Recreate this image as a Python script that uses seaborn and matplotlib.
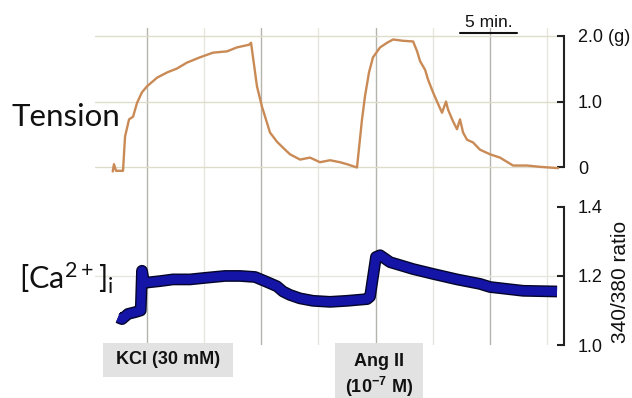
import matplotlib
matplotlib.use("Agg")
import matplotlib.pyplot as plt
import matplotlib.patheffects as pe
from matplotlib.patches import Rectangle
import pandas as pd
import seaborn as sns

# time in minutes, tension in g
tension_t = [2.00, 2.11, 2.29, 2.90, 3.08, 3.43, 3.78, 4.13, 4.56, 5.00, 5.87, 6.75,
             7.62, 8.50, 9.64, 10.77, 12.00, 12.87, 13.92, 14.10, 14.62, 15.06, 15.76,
             16.37, 16.90, 17.51, 18.39, 19.26, 20.13, 21.01, 21.88, 22.50, 23.37,
             23.81, 24.07, 24.42, 24.77, 25.39, 26.00, 26.53, 27.40, 28.28, 28.63,
             28.89, 29.33, 29.59, 30.02, 30.37, 30.81, 31.16, 31.33, 31.77, 32.12,
             32.38, 32.65, 33.00, 33.52, 34.13, 35.01, 35.88, 37.02, 38.24, 39.38, 40.96]
tension_g = [-0.06, 0.05, -0.05, -0.05, 0.47, 0.73, 0.77, 0.98, 1.14, 1.23, 1.36, 1.44,
             1.50, 1.59, 1.67, 1.74, 1.76, 1.82, 1.86, 1.89, 1.23, 0.92, 0.53,
             0.39, 0.30, 0.20, 0.12, 0.15, 0.08, 0.11, 0.08, 0.05, 0.00,
             0.73, 1.08, 1.44, 1.67, 1.82, 1.89, 1.94, 1.92, 1.91, 1.76,
             1.61, 1.48, 1.33, 1.14, 1.00, 0.83, 1.00, 0.88, 0.70, 0.58,
             0.73, 0.53, 0.42, 0.38, 0.27, 0.20, 0.15, 0.03, 0.03, 0.01, -0.01]

# 340/380 fura-2 ratio
ca_t = [2.46, 2.81, 3.34, 3.95, 4.45, 4.56, 4.75, 6.13, 7.27, 8.76, 10.25, 11.82,
        13.14, 14.45, 15.32, 16.37, 16.90, 17.51, 18.39, 19.52, 21.01, 22.50,
        24.25, 24.51, 25.03, 25.39, 26.26, 28.28, 30.02, 32.12, 34.13, 35.01,
        37.90, 40.87]
ca_ratio = [1.08, 1.075, 1.09, 1.095, 1.10, 1.215, 1.18, 1.185, 1.19, 1.19, 1.195, 1.20,
            1.20, 1.197, 1.185, 1.17, 1.155, 1.145, 1.135, 1.128, 1.125, 1.128,
            1.133, 1.14, 1.255, 1.26, 1.24, 1.22, 1.206, 1.19, 1.177, 1.168,
            1.157, 1.155]

tension_ticks = [0, 1.0, 2.0]
tension_labels = ["0", "1.0", "2.0 (g)"]
ca_ticks = [1.0, 1.2, 1.4]
ca_labels = ["1.0", "1.2", "1.4"]
grid_major = [5, 15, 25, 35]
grid_minor = [10, 20, 30, 40]
scale_bar = [32.4, 37.4]

sns.set_style("white")
plt.rcParams["font.family"] = ["Liberation Sans", "DejaVu Sans"]

W, H = 632, 398
fig = plt.figure(figsize=(W / 100, H / 100), dpi=100)

x_lim = (0.45, 41.48)
ax1 = fig.add_axes([95 / W, 1 - 190 / H, 469 / W, 162 / H])
ax2 = fig.add_axes([95 / W, 1 - 345 / H, 469 / W, 155 / H])

df_t = pd.DataFrame({"time": tension_t, "tension": tension_g})
df_c = pd.DataFrame({"time": ca_t, "ratio": ca_ratio})

sns.lineplot(data=df_t, x="time", y="tension", ax=ax1, color="#c98a55", lw=1.7,
             sort=False, estimator=None)
sns.lineplot(data=df_c, x="time", y="ratio", ax=ax2, color="#1414a6", lw=6.5,
             sort=False, estimator=None, solid_capstyle="butt", solid_joinstyle="round",
             path_effects=[pe.Stroke(linewidth=8.5, foreground="#05052a"), pe.Normal()])

for ax in (ax1, ax2):
    ax.set_xlim(*x_lim)
    ax.set_facecolor("none")
    for x in grid_major:
        ax.axvline(x, color="#b4b4ac", lw=1.0, zorder=0)
    for x in grid_minor:
        ax.axvline(x, color="#e6e6de", lw=1.0, zorder=0)
    for s in ("left", "top", "bottom"):
        ax.spines[s].set_visible(False)
    ax.spines["right"].set_linewidth(1.5)
    ax.spines["right"].set_color("#222222")
    ax.set_xticks([])
    ax.set_xlabel("")
    ax.set_ylabel("")
    ax.yaxis.tick_right()
    ax.tick_params(axis="x", bottom=False, top=False)
    ax.tick_params(axis="y", direction="in", length=5, width=1.5, color="#222222",
                   pad=10, labelsize=13, labelcolor="#111111")

ax1.set_ylim(-0.341, 2.114)
ax2.set_ylim(1.0, 1.449)
ax1.spines["right"].set_bounds(0, 2.0)
ax2.spines["right"].set_bounds(1.0, 1.4)

for y in tension_ticks:
    ax1.axhline(y, color="#deddcc", lw=1.0, zorder=0)
ax2.axhline(1.2, color="#e6e6de", lw=1.0, zorder=0)

ax1.set_yticks(tension_ticks)
ax1.set_yticklabels(tension_labels)
ax2.set_yticks(ca_ticks)
ax2.set_yticklabels(ca_labels)

fig.text(621 / W, 1 - 282 / H, "340/380 ratio", fontsize=15, rotation=90,
         ha="center", va="center", color="#111111")

# 5 min scale bar
ax1.plot(scale_bar, [2.04, 2.04], color="#111111", lw=1.5, clip_on=False)
ax1.text(sum(scale_bar) / 2, 2.09, "5 min.", ha="center", va="bottom", fontsize=12.5,
         color="#111111", clip_on=False)

# trace labels
fig.text(11 / W, 1 - 117 / H, "Tension", fontsize=22.5, family=["Lato", "DejaVu Sans"],
         ha="left", va="center", color="#111111")
fig.text(19 / W, 1 - 278 / H, r"[Ca$\mathregular{^{2+}}$]$\mathregular{_i}$", fontsize=22,
         family=["Lato", "DejaVu Sans"], ha="left", va="center", color="#111111")

# drug boxes
fig.add_artist(Rectangle((103 / W, 1 - 377 / H), 130 / W, 34 / H,
                         transform=fig.transFigure, color="#e2e2e2", lw=0))
fig.text(168 / W, 1 - 360 / H, "KCl (30 mM)", fontsize=13, weight="bold",
         ha="center", va="center", color="#111111")
fig.add_artist(Rectangle((335 / W, 0), 88 / W, 55 / H,
                         transform=fig.transFigure, color="#e2e2e2", lw=0))
fig.text(379 / W, 1 - 362 / H, "Ang II", fontsize=13, weight="bold",
         ha="center", va="center", color="#111111")
fig.text(379 / W, 1 - 387 / H, r"(10$\mathregular{^{-7}}$ M)", fontsize=13, weight="bold",
         ha="center", va="center", color="#111111")

fig.savefig("out.png", dpi=100)
